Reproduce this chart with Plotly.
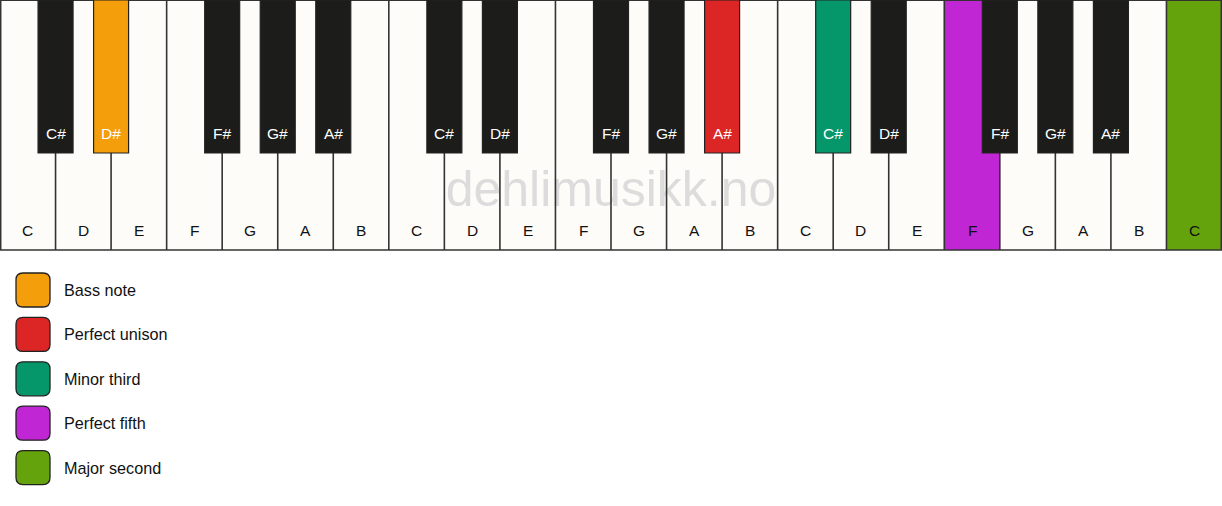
import plotly.graph_objects as go

# ---- data ----
white_notes = ["C", "D", "E", "F", "G", "A", "B"] * 3 + ["C"]
black_after = {"C": "C#", "D": "D#", "F": "F#", "G": "G#", "A": "A#"}
# highlighted black keys, keyed by index of the white key to their left
highlight_black = {1: "#F59E0B", 12: "#DC2626", 14: "#059669"}
# highlighted white keys, keyed by white key index
highlight_white = {17: "#C026D3", 21: "#65A30D"}
legend_labels = ["Bass note", "Perfect unison", "Minor third", "Perfect fifth", "Major second"]
legend_colors = ["#F59E0B", "#DC2626", "#059669", "#C026D3", "#65A30D"]
watermark = "dehlimusikk.no"

W_PX, H_PX = 1222, 506
n_white = len(white_notes)
px = W_PX / n_white  # pixels per white key unit

WHITE_FILL = "#FDFCF8"
BLACK_FILL = "#1C1C1A"
BORDER = "#333333"
WHITE_H = 250
BLACK_H = 153
BLACK_W = 35 / px
FONT = "Liberation Sans, Arial, sans-serif"

shapes = []
annotations = []

# white keys
for i, n in enumerate(white_notes):
    fill = highlight_white.get(i, WHITE_FILL)
    shapes.append(dict(type="rect", layer="below", x0=i, x1=i + 1, y0=0, y1=WHITE_H,
                       fillcolor=fill, line=dict(width=0)))
    annotations.append(dict(x=i + 0.5, y=230.5, text=n, showarrow=False,
                            font=dict(family=FONT, size=15.5, color="#111111")))

# border lines (above the watermark)
for i in range(n_white + 1):
    xv = min(max(i, 0.012), n_white - 0.012)
    shapes.append(dict(type="line", layer="above", x0=xv, x1=xv, y0=0, y1=WHITE_H,
                       line=dict(color=BORDER, width=1.6)))
shapes.append(dict(type="line", layer="above", x0=0, x1=n_white, y0=WHITE_H, y1=WHITE_H,
                   line=dict(color=BORDER, width=1.6)))
shapes.append(dict(type="line", layer="above", x0=0, x1=n_white, y0=0.5, y1=0.5,
                   line=dict(color=BORDER, width=1)))

# black keys
for i, n in enumerate(white_notes[:-1]):
    if n in black_after:
        c = i + 1
        fill = highlight_black.get(i, BLACK_FILL)
        shapes.append(dict(type="rect", layer="above", x0=c - BLACK_W / 2, x1=c + BLACK_W / 2,
                           y0=0, y1=BLACK_H, fillcolor=fill,
                           line=dict(color="#222222", width=1.2)))
        annotations.append(dict(x=c, y=133, text=black_after[n], showarrow=False,
                                font=dict(family=FONT, size=15.5, color="#FFFFFF")))

# legend
r_px = 7
for k, (lab, col) in enumerate(zip(legend_labels, legend_colors)):
    yc = 290 + k * 44.4
    x0p, x1p, y0p, y1p = 16, 50, yc - 17, yc + 17
    def X(p):
        return p / px
    path = (f"M {X(x0p + r_px)},{y0p} L {X(x1p - r_px)},{y0p} "
            f"Q {X(x1p)},{y0p} {X(x1p)},{y0p + r_px} L {X(x1p)},{y1p - r_px} "
            f"Q {X(x1p)},{y1p} {X(x1p - r_px)},{y1p} L {X(x0p + r_px)},{y1p} "
            f"Q {X(x0p)},{y1p} {X(x0p)},{y1p - r_px} L {X(x0p)},{y0p + r_px} "
            f"Q {X(x0p)},{y0p} {X(x0p + r_px)},{y0p} Z")
    shapes.append(dict(type="path", path=path, fillcolor=col,
                       line=dict(color="#222222", width=1.3), layer="above"))
    annotations.append(dict(x=62 / px, y=yc, text=lab, showarrow=False, xanchor="left",
                            font=dict(family=FONT, size=16.2, color="#111111")))

fig = go.Figure()
fig.add_trace(go.Scatter(x=[n_white / 2], y=[193], mode="text", text=[watermark],
                         textfont=dict(family=FONT, size=50, color="#DCDCDC"),
                         hoverinfo="skip", showlegend=False))

fig.update_layout(
    width=W_PX, height=H_PX,
    margin=dict(l=0, r=0, t=0, b=0),
    paper_bgcolor="white", plot_bgcolor="white",
    xaxis=dict(range=[0, n_white], visible=False, fixedrange=True),
    yaxis=dict(range=[H_PX, 0], visible=False, fixedrange=True),
    shapes=shapes, annotations=annotations, showlegend=False,
)
fig.write_html("out.html", config={"displayModeBar": False},
               post_script="document.body.style.margin='0';document.body.style.overflow='hidden';")
